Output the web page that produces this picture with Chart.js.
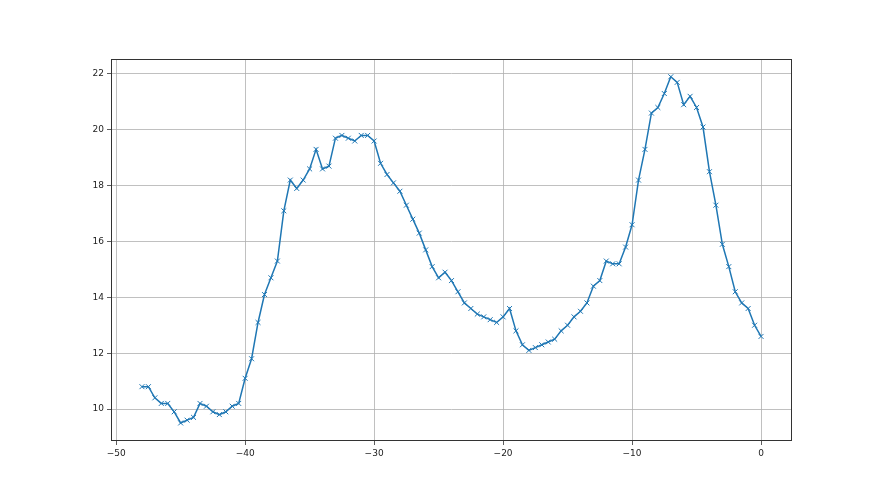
<!DOCTYPE html>
<html>
<head>
<meta charset="utf-8">
<script src="https://cdn.jsdelivr.net/npm/chart.js@4.4.1/dist/chart.umd.min.js"></script>
<style>
html,body{margin:0;padding:0;background:#fff;}
#wrap{width:880px;height:495px;}
</style>
</head>
<body>
<div id="wrap"><canvas id="c" width="880" height="495"></canvas></div>
<script>
const xValues = [-48,-47.5,-47,-46.5,-46,-45.5,-45,-44.5,-44,-43.5,-43,-42.5,-42,-41.5,-41,-40.5,-40,-39.5,-39,-38.5,-38,-37.5,-37,-36.5,-36,-35.5,-35,-34.5,-34,-33.5,-33,-32.5,-32,-31.5,-31,-30.5,-30,-29.5,-29,-28.5,-28,-27.5,-27,-26.5,-26,-25.5,-25,-24.5,-24,-23.5,-23,-22.5,-22,-21.5,-21,-20.5,-20,-19.5,-19,-18.5,-18,-17.5,-17,-16.5,-16,-15.5,-15,-14.5,-14,-13.5,-13,-12.5,-12,-11.5,-11,-10.5,-10,-9.5,-9,-8.5,-8,-7.5,-7,-6.5,-6,-5.5,-5,-4.5,-4,-3.5,-3,-2.5,-2,-1.5,-1,-0.5,0];
const yValues = [10.8,10.8,10.4,10.2,10.2,9.9,9.5,9.6,9.7,10.2,10.1,9.9,9.8,9.9,10.1,10.2,11.1,11.8,13.1,14.1,14.7,15.3,17.1,18.2,17.9,18.2,18.6,19.3,18.6,18.7,19.7,19.8,19.7,19.6,19.8,19.8,19.6,18.8,18.4,18.1,17.8,17.3,16.8,16.3,15.7,15.1,14.7,14.9,14.6,14.2,13.8,13.6,13.4,13.3,13.2,13.1,13.3,13.6,12.8,12.3,12.1,12.2,12.3,12.4,12.5,12.8,13.0,13.3,13.5,13.8,14.4,14.6,15.3,15.2,15.2,15.8,16.6,18.2,19.3,20.6,20.8,21.3,21.9,21.7,20.9,21.2,20.8,20.1,18.5,17.3,15.9,15.1,14.2,13.8,13.6,13.0,12.6];
const xTicks = [-50,-40,-30,-20,-10,0];
const yTicks = [10,12,14,16,18,20,22];

const points = xValues.map((x,i)=>({x:x, y:yValues[i]}));
const fmt = v => (v < 0 ? '\u2212' + Math.abs(v) : String(v));

const frame = {
  id:'frame',
  afterDraw(chart){
    const a = chart.chartArea, ctx = chart.ctx;
    ctx.save();
    ctx.strokeStyle = '#333';
    ctx.lineWidth = 1;
    ctx.strokeRect(Math.round(a.left)+0.5, Math.round(a.top)+0.5, Math.round(a.right-a.left)-1, Math.round(a.bottom-a.top)-1);
    ctx.restore();
  }
};

new Chart(document.getElementById('c'), {
  type:'line',
  data:{datasets:[{
    data:points,
    borderColor:'#1f77b4',
    backgroundColor:'#1f77b4',
    borderWidth:1.5,
    tension:0,
    fill:false,
    pointStyle:'crossRot',
    pointRadius:3.5,
    pointHoverRadius:3.5,
    pointBorderWidth:1,
    pointBorderColor:'#1f77b4'
  }]},
  options:{
    responsive:false,
    animation:false,
    events:[],
    layout:{padding:{left:0,top:59,right:88,bottom:0}},
    plugins:{legend:{display:false},tooltip:{enabled:false}},
    scales:{
      x:{
        type:'linear',
        min:-50.4, max:2.4,
        afterBuildTicks(s){ s.ticks = xTicks.map(v=>({value:v})); },
        afterFit(s){ s.height = 54; },
        grid:{color:'#b0b0b0', lineWidth:0.8, tickColor:'#333', tickLength:4, drawTicks:true},
        border:{display:false},
        ticks:{color:'#222', font:{family:'DejaVu Sans', size:9}, padding:3, maxRotation:0, callback:v=>fmt(v)}
      },
      y:{
        type:'linear',
        min:8.854, max:22.537,
        afterBuildTicks(s){ s.ticks = yTicks.map(v=>({value:v})); },
        afterFit(s){ s.width = 111; },
        grid:{color:'#b0b0b0', lineWidth:0.8, tickColor:'#333', tickLength:4, drawTicks:true},
        border:{display:false},
        ticks:{color:'#222', font:{family:'DejaVu Sans', size:9}, padding:3, callback:v=>fmt(v)}
      }
    }
  },
  plugins:[frame]
});
</script>
</body>
</html>
